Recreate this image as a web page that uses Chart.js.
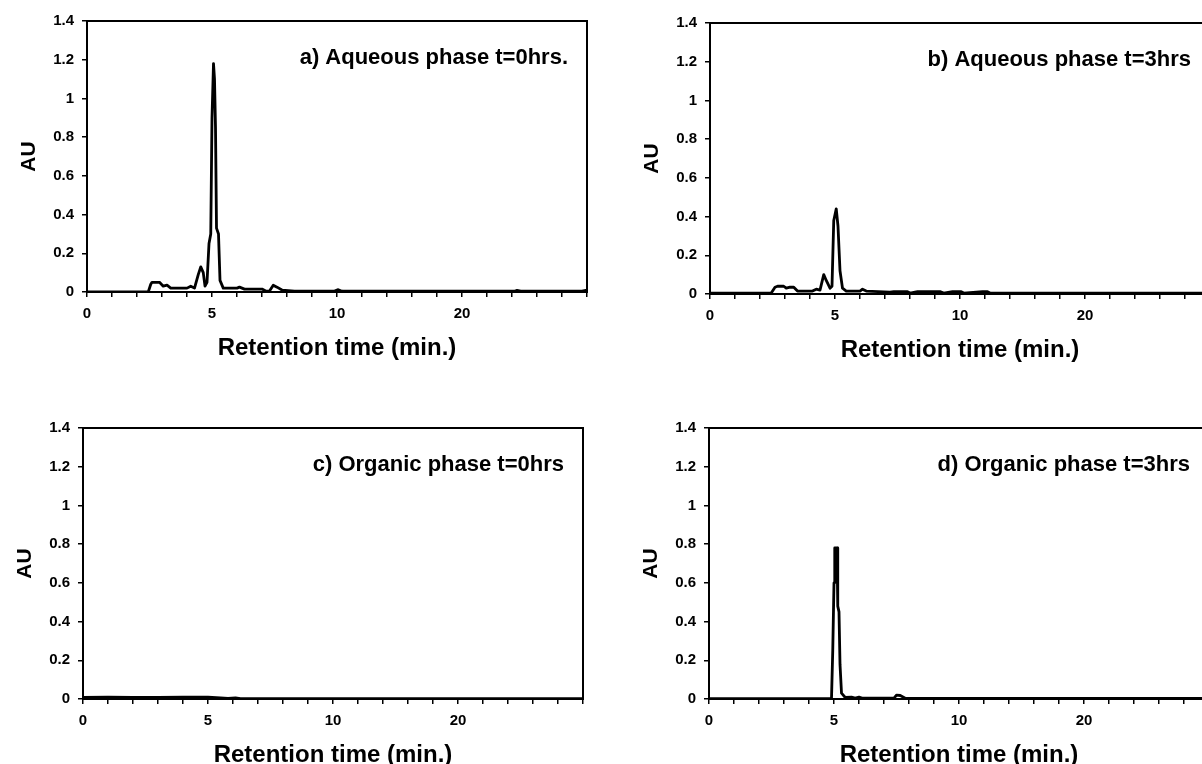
<!DOCTYPE html>
<html>
<head>
<meta charset="utf-8">
<script src="https://cdn.jsdelivr.net/npm/chart.js@4/dist/chart.umd.min.js"></script>
<style>
  html, body { margin: 0; padding: 0; background: #fff; overflow: hidden; }
  #wrap { position: relative; width: 1202px; height: 764px; overflow: hidden; }
  .panel { position: absolute; }
</style>
</head>
<body>
<div id="wrap">
  <canvas id="chartA" class="panel" width="600" height="380" style="left:0px;top:0px"></canvas>
  <canvas id="chartB" class="panel" width="600" height="380" style="left:623px;top:2px"></canvas>
  <canvas id="chartC" class="panel" width="600" height="380" style="left:-4px;top:407px"></canvas>
  <canvas id="chartD" class="panel" width="600" height="380" style="left:622px;top:407px"></canvas>
</div>
<script>
// x axis: labels are retention times but spaced evenly (0, 5, 10, 20)
const tickTimes = [0, 5, 10, 20, 30];
const tickPos = [0, 5, 10, 15, 20];
const tickLabels = ['0', '5', '10', '20', ''];

const yMin = 0;
const yMax = 1.4;
const yStep = 0.2;

const panelTitles = [
  'a) Aqueous phase t=0hrs.',
  'b) Aqueous phase t=3hrs',
  'c) Organic phase t=0hrs',
  'd) Organic phase t=3hrs'
];

// a) aqueous phase, t = 0 hrs
const aq0Time = [0, 2.45, 2.55, 2.6, 2.9, 3.05, 3.2, 3.35, 4.0, 4.15, 4.3, 4.45, 4.55, 4.65, 4.72, 4.8, 4.88, 4.95, 5.0, 5.06, 5.1, 5.14, 5.18, 5.26, 5.32, 5.45, 6.0, 6.1, 6.3, 7.0, 7.15, 7.3, 7.45, 7.6, 7.8, 8.3, 9.9, 10.1, 10.4, 24.2, 24.4, 24.7, 29.6, 30];
const aq0AU = [0, 0, 0.04, 0.05, 0.05, 0.03, 0.035, 0.02, 0.02, 0.03, 0.02, 0.09, 0.13, 0.1, 0.03, 0.05, 0.25, 0.3, 0.9, 1.18, 1.1, 0.85, 0.33, 0.3, 0.06, 0.02, 0.02, 0.025, 0.015, 0.015, 0.005, 0.005, 0.035, 0.025, 0.01, 0.005, 0.005, 0.012, 0.004, 0.004, 0.008, 0.004, 0.005, 0.01];

// b) aqueous phase, t = 3 hrs
const aq3Time = [0, 2.45, 2.6, 2.7, 2.95, 3.05, 3.2, 3.35, 3.5, 4.1, 4.25, 4.4, 4.55, 4.65, 4.8, 4.88, 4.95, 5.05, 5.12, 5.2, 5.3, 5.45, 6.0, 6.1, 6.25, 7.2, 7.35, 7.9, 8.0, 8.3, 9.2, 9.35, 9.7, 10.1, 10.3, 11.8, 12.2, 12.4, 30];
const aq3AU = [0.005, 0.005, 0.035, 0.04, 0.04, 0.03, 0.035, 0.035, 0.015, 0.015, 0.025, 0.02, 0.1, 0.07, 0.03, 0.04, 0.38, 0.44, 0.35, 0.12, 0.03, 0.015, 0.015, 0.025, 0.015, 0.01, 0.012, 0.012, 0.005, 0.012, 0.012, 0.005, 0.012, 0.012, 0.005, 0.012, 0.012, 0.005, 0.005];

// c) organic phase, t = 0 hrs
const org0Time = [0, 1.0, 2.0, 3.0, 4.0, 5.0, 5.5, 5.8, 6.1, 6.3, 30];
const org0AU = [0.008, 0.01, 0.008, 0.008, 0.01, 0.01, 0.006, 0.003, 0.006, 0.002, 0.002];

// d) organic phase, t = 3 hrs
const org3Time = [0, 4.9, 4.95, 5.0, 5.03, 5.12, 5.15, 5.2, 5.24, 5.3, 5.45, 5.7, 5.85, 6.0, 6.15, 7.4, 7.5, 7.65, 7.85, 10, 30];
const org3AU = [0.002, 0.002, 0.25, 0.6, 0.78, 0.78, 0.48, 0.45, 0.18, 0.03, 0.008, 0.01, 0.005, 0.01, 0.004, 0.004, 0.02, 0.018, 0.004, 0.003, 0.003];

// retention time -> position on the evenly spaced axis
function toAxis(t) {
  for (let i = 0; i < tickTimes.length - 1; i++) {
    if (t <= tickTimes[i + 1]) {
      const f = (t - tickTimes[i]) / (tickTimes[i + 1] - tickTimes[i]);
      return tickPos[i] + f * (tickPos[i + 1] - tickPos[i]);
    }
  }
  return tickPos[tickPos.length - 1];
}

const FONT = "'Liberation Sans', Arial, Helvetica, sans-serif";

// frame round the plot area plus the panel caption
const framePlugin = {
  id: 'frame',
  afterDraw(chart, args, opts) {
    const ctx = chart.ctx;
    const a = chart.chartArea;
    ctx.save();
    ctx.strokeStyle = '#000';
    ctx.lineWidth = 2;
    ctx.strokeRect(a.left, a.top, a.right - a.left, a.bottom - a.top);
    ctx.fillStyle = '#000';
    ctx.font = 'bold 22px ' + FONT;
    ctx.textAlign = 'right';
    ctx.textBaseline = 'middle';
    ctx.fillText(opts.text, a.left + 481, chart.scales.y.getPixelForValue(1.2) - 2);
    ctx.restore();
  }
};

function makeChart(id, times, values, title) {
  const points = times.map((t, i) => ({ x: toAxis(t), y: values[i] }));
  return new Chart(document.getElementById(id), {
    type: 'line',
    data: {
      datasets: [{
        data: points,
        borderColor: '#000',
        borderWidth: 2.8,
        pointRadius: 0,
        tension: 0,
        fill: false,
        borderJoinStyle: 'round'
      }]
    },
    options: {
      responsive: false,
      animation: false,
      events: [],
      layout: { padding: { top: 21, left: 0, right: 13, bottom: 0 } },
      plugins: {
        legend: { display: false },
        tooltip: { enabled: false },
        frame: { text: title }
      },
      scales: {
        x: {
          type: 'linear',
          min: tickPos[0],
          max: tickPos[tickPos.length - 1],
          afterBuildTicks(scale) {
            const t = [];
            for (let v = tickPos[0]; v <= tickPos[tickPos.length - 1]; v++) t.push({ value: v });
            scale.ticks = t;
          },
          afterFit(scale) {
            scale.height = 88;
            scale.paddingLeft = 0;
            scale.paddingRight = 0;
          },
          ticks: {
            autoSkip: false,
            maxRotation: 0,
            padding: 8,
            color: '#000',
            font: { family: FONT, size: 15, weight: 'bold' },
            callback(v) {
              const i = tickPos.indexOf(v);
              return i >= 0 ? tickLabels[i] : '';
            }
          },
          grid: { display: true, drawOnChartArea: false, drawTicks: true, tickLength: 5, color: '#000', lineWidth: 1.5 },
          border: { display: true, color: '#000', width: 2 },
          title: {
            display: true,
            text: 'Retention time (min.)',
            color: '#000',
            font: { family: FONT, size: 24, weight: 'bold' },
            padding: { top: 0, bottom: 17 }
          }
        },
        y: {
          min: yMin,
          max: yMax,
          afterFit(scale) {
            scale.width = 87;
            scale.paddingTop = 0;
            scale.paddingBottom = 0;
          },
          ticks: {
            stepSize: yStep,
            padding: 8,
            color: '#000',
            font: { family: FONT, size: 15, weight: 'bold' },
            callback(v) { return String(+v.toFixed(1)); }
          },
          grid: { display: true, drawOnChartArea: false, drawTicks: true, tickLength: 5, color: '#000', lineWidth: 1.5 },
          border: { display: true, color: '#000', width: 2 },
          title: {
            display: true,
            text: 'AU',
            color: '#000',
            font: { family: FONT, size: 21, weight: 'bold' },
            padding: { top: 17, bottom: 0 }
          }
        }
      }
    },
    plugins: [framePlugin]
  });
}

makeChart('chartA', aq0Time, aq0AU, panelTitles[0]);
makeChart('chartB', aq3Time, aq3AU, panelTitles[1]);
makeChart('chartC', org0Time, org0AU, panelTitles[2]);
makeChart('chartD', org3Time, org3AU, panelTitles[3]);
</script>
</body>
</html>
